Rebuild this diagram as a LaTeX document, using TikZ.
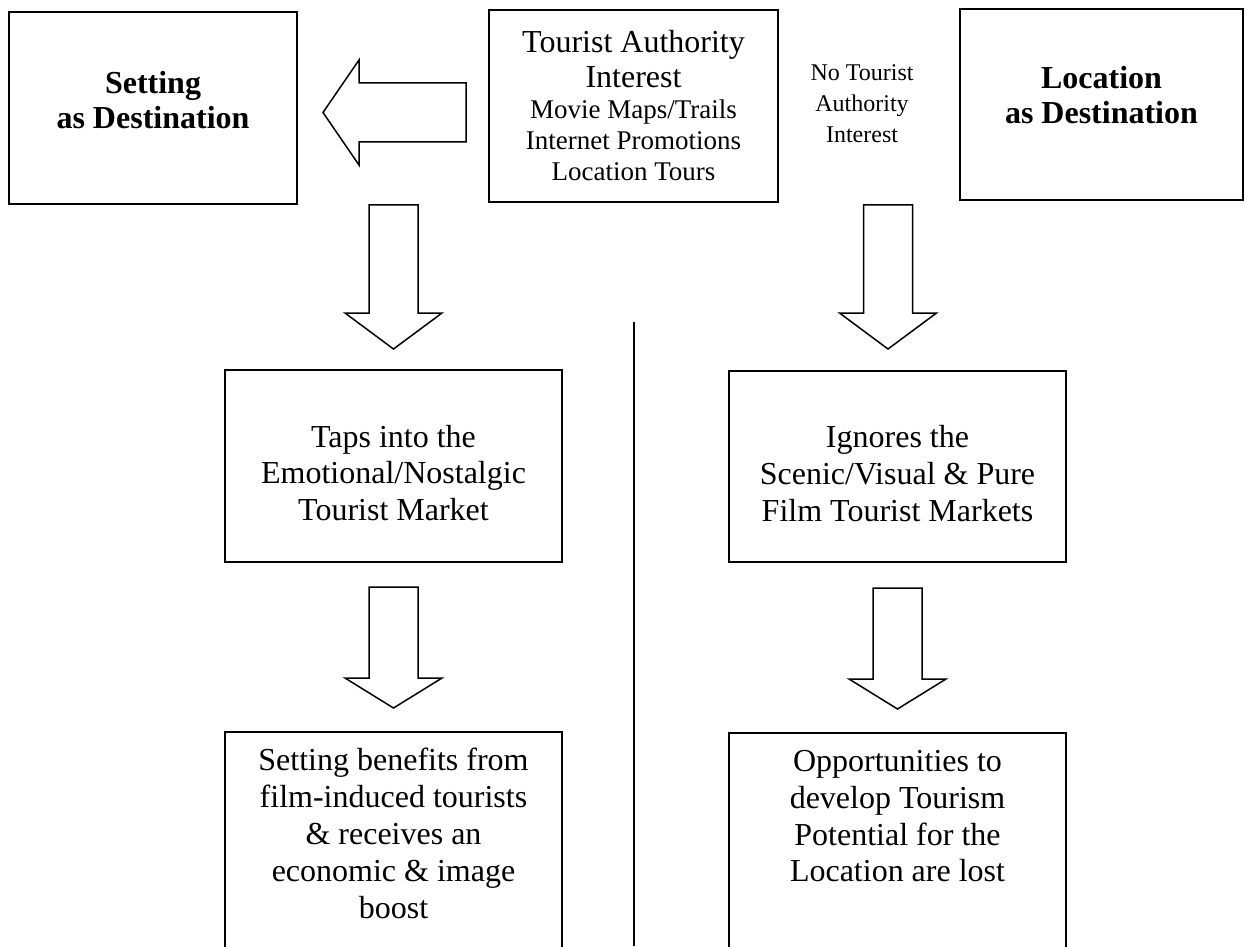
\documentclass[tikz,border=0pt]{standalone}
\usepackage{fontspec}
\setmainfont{Liberation Serif}
\usetikzlibrary{calc}

\tikzset{
  pics/downarr/.style 2 args={code={
    \draw[blockarrow] (-24.5,0) -- (24.5,0) -- (24.5,#1) -- (48.5,#1) -- (0,#1+#2) -- (-48.5,#1) -- (-24.5,#1) -- cycle;}}
}

\begin{document}
\begin{tikzpicture}[x=0.5pt,y=-0.5pt,
  box/.style={draw,line width=1pt,inner sep=0pt},
  boxtext/.style={inner sep=0pt,align=center,font=\fontsize{16}{18.4}\selectfont},
  headtext/.style={boxtext,font=\fontsize{16}{17.5}\selectfont\bfseries},
  blockarrow/.style={draw,line width=0.75pt,line join=miter},
  divider/.style={line width=0.75pt}]
  \path[use as bounding box,clip] (0,0) rectangle (1245,946);

  % top row
  \node[box,minimum width=144pt,minimum height=96pt] (setting) at (153,108) {};
  \node[headtext] (settingtxt) at ($(setting.center)+(0,-8)$) {Setting\\as Destination};
  \node[box,align=center,minimum width=144.5pt,minimum height=96pt,font=\fontsize{16}{15.5}\selectfont] (authority) at (633.5,106)
    {Tourist Authority\\[2pt]Interest\\
     \fontsize{13.5}{15}\selectfont Movie Maps/Trails\\
     \fontsize{13.5}{15}\selectfont Internet Promotions\\
     \fontsize{13.5}{15}\selectfont Location Tours};
  \node[inner sep=0pt,align=center,font=\fontsize{12}{15.5}\selectfont] (noauth) at (862,104) {No Tourist\\Authority\\Interest};
  \node[box,minimum width=141.5pt,minimum height=95.5pt,line width=1.4pt] (location) at (1101.5,104.5) {};
  \node[headtext] (locationtxt) at ($(location.center)+(0,-9)$) {Location\\as Destination};

  % middle row
  \node[box,minimum width=168.5pt,minimum height=96pt] (taps) at (393.5,466) {};
  \node[boxtext] (tapstxt) at ($(taps.center)+(0,7)$) {Taps into the\\Emotional/Nostalgic\\Tourist Market};
  \node[box,minimum width=168.5pt,minimum height=95.5pt] (ignores) at (897.5,466.5) {};
  \node[boxtext] (ignorestxt) at ($(ignores.center)+(0,7)$) {Ignores the\\Scenic/Visual \& Pure\\Film Tourist Markets};

  % bottom row, cut by the page
  \node[box,minimum width=168.5pt,minimum height=130pt,anchor=north] (benefit) at (393.5,731) {};
  \node[box,minimum width=168.5pt,minimum height=130pt,anchor=north] (lost) at (897.5,732) {};
  \node[boxtext,anchor=north] (benefittxt) at ($(benefit.north)+(0,17)$)
    {Setting benefits from\\film-induced tourists\\\& receives an\\economic \& image\\boost};
  \node[boxtext,anchor=north] (losttxt) at ($(lost.north)+(0,18)$)
    {Opportunities to\\develop Tourism\\Potential for the\\Location are lost};

  % block arrows
  \draw[blockarrow] ($(setting.east)+(25,4.5)$) -- ++(36,-52.5) -- ++(0,23) -- ++(107,0)
    -- ++(0,59) -- ++(-107,0) -- ++(0,23) -- cycle;
  \pic at (taps.north |- setting.south) {downarr={108}{36}};
  \pic at ($(ignores.north |- authority.south)+(-9.5,2)$) {downarr={108}{36}};
  \pic at ($(taps.south)+(0,24)$) {downarr={91}{30}};
  \pic at ($(ignores.south)+(0,25)$) {downarr={91}{30}};

  \draw[divider] (634,322) -- (634,946);
\end{tikzpicture}
\end{document}
